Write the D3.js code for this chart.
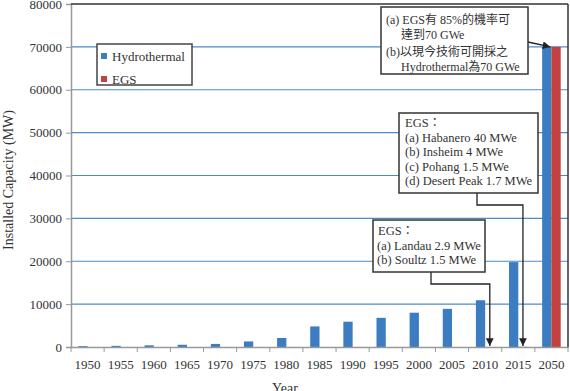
<!DOCTYPE html>
<html>
<head>
<meta charset="utf-8">
<script src="https://cdn.jsdelivr.net/npm/d3@7"></script>
<style>
  body { margin: 0; background: #fff; }
  text { font-family: "Liberation Serif", "Noto Sans CJK TC", serif; fill: #333; }
</style>
</head>
<body>
<svg id="chart" width="570" height="391"></svg>
<script>
var years = ['1950', '1955', '1960', '1965', '1970', '1975', '1980', '1985', '1990', '1995', '2000', '2005', '2010', '2015', '2050'];
var hydrothermal = [200, 270, 390, 520, 720, 1300, 2100, 4800, 5900, 6800, 8000, 8900, 10900, 19800, 70000];
var egs = [null, null, null, null, null, null, null, null, null, null, null, null, 4.4, 47.2, 70000];
var seriesNames = ['Hydrothermal', 'EGS'];
var yTicks = [0, 10000, 20000, 30000, 40000, 50000, 60000, 70000, 80000];

var colors = { Hydrothermal: '#3b7dc0', EGS: '#c4413f' };

var margin = { top: 4, right: 2, bottom: 44, left: 71 };
var width = 570 - margin.left - margin.right;
var height = 391 - margin.top - margin.bottom;

var svg = d3.select('#chart');
var g = svg.append('g').attr('transform', 'translate(' + margin.left + ',' + margin.top + ')');

var x0 = d3.scaleBand().domain(years).range([0, width]).paddingInner(0.44).paddingOuter(0.22);
var x1 = d3.scaleBand().domain(seriesNames).range([0, x0.bandwidth()]);
var y = d3.scaleLinear().domain([0, 80000]).range([height, 0]);

var step = x0.step();

// gridlines
g.selectAll('.grid')
  .data(yTicks.filter(function (d) { return d > 0 && d < 80000; }))
  .enter().append('line')
  .attr('x1', 0).attr('x2', width)
  .attr('y1', function (d) { return y(d); }).attr('y2', function (d) { return y(d); })
  .attr('stroke', '#4a8bcb').attr('stroke-width', 1.2);

// bars
var rows = years.map(function (yr, i) {
  return { year: yr, values: [{ key: 'Hydrothermal', v: hydrothermal[i] }, { key: 'EGS', v: egs[i] }] };
});

g.selectAll('.grp')
  .data(rows)
  .enter().append('g')
  .attr('transform', function (d) { return 'translate(' + x0(d.year) + ',0)'; })
  .selectAll('rect')
  .data(function (d) { return d.values.filter(function (v) { return v.v != null; }); })
  .enter().append('rect')
  .attr('x', function (d) { return x1(d.key); })
  .attr('width', x1.bandwidth())
  .attr('y', function (d) { return y(d.v); })
  .attr('height', function (d) { return height - y(d.v); })
  .attr('fill', function (d) { return colors[d.key]; });

// axes
var yAxis = g.append('g')
  .call(d3.axisLeft(y).tickValues(yTicks).tickSize(5).tickPadding(4).tickFormat(d3.format('d')));
yAxis.selectAll('text').style('font-size', '13px');
yAxis.selectAll('line').attr('stroke', '#999');
yAxis.select('.domain').attr('stroke', '#999').attr('stroke-width', 1.5);

var xAxis = g.append('g')
  .attr('transform', 'translate(0,' + height + ')')
  .call(d3.axisBottom(x0).tickSize(0).tickPadding(13));
xAxis.selectAll('text').style('font-size', '13px');
xAxis.select('.domain').attr('stroke', '#999').attr('stroke-width', 1.5);

// category boundary ticks
g.selectAll('.xtick')
  .data(d3.range(years.length + 1))
  .enter().append('line')
  .attr('x1', function (i) { return i * step; }).attr('x2', function (i) { return i * step; })
  .attr('y1', height).attr('y2', height + 5)
  .attr('stroke', '#999');

// plot border top & right
g.append('line').attr('x1', 0).attr('x2', width).attr('y1', 0).attr('y2', 0)
  .attr('stroke', '#333').attr('stroke-width', 1.5);
g.append('line').attr('x1', width).attr('x2', width).attr('y1', 0).attr('y2', height)
  .attr('stroke', '#333').attr('stroke-width', 1.5);

// axis titles
svg.append('text')
  .attr('transform', 'translate(13,180) rotate(-90)')
  .attr('text-anchor', 'middle')
  .style('font-size', '14px')
  .text('Installed Capacity (MW)');
svg.append('text')
  .attr('x', 285).attr('y', 393)
  .attr('text-anchor', 'middle')
  .style('font-size', '14px')
  .text('Year');

// legend
var legend = svg.append('g');
legend.append('rect').attr('x', 97).attr('y', 44).attr('width', 95).attr('height', 41)
  .attr('fill', '#fff').attr('stroke', '#444').attr('stroke-width', 1.5);
seriesNames.forEach(function (s, i) {
  var cy = 56 + i * 23;
  legend.append('rect').attr('x', 101).attr('y', cy - 3).attr('width', 6).attr('height', 6).attr('fill', colors[s]);
  legend.append('text').attr('x', 112).attr('y', cy + 4.5).style('font-size', '13px').text(s);
});

// annotations
svg.append('defs').append('marker')
  .attr('id', 'arrow').attr('viewBox', '0 0 10 10')
  .attr('refX', 10).attr('refY', 5)
  .attr('markerWidth', 6).attr('markerHeight', 6)
  .attr('orient', 'auto-start-reverse')
  .append('path').attr('d', 'M0,0 L10,5 L0,10 z').attr('fill', '#222');

function box(x, yTop, w, h) {
  svg.append('rect').attr('x', x).attr('y', yTop).attr('width', w).attr('height', h)
    .attr('fill', '#fff').attr('stroke', '#333').attr('stroke-width', 1.5);
}
function lines(items) {
  items.forEach(function (t) {
    svg.append('text').attr('x', t[0]).attr('y', t[1]).style('font-size', t[3] || '12.5px').text(t[2]);
  });
}
function egsX(yr) { return margin.left + x0(yr) + x1('EGS') + x1.bandwidth() / 2; }

// box 1 (2050)
svg.append('line')
  .attr('x1', 528).attr('y1', 42)
  .attr('x2', margin.left + x0('2050') + x0.bandwidth() / 2 - 1).attr('y2', margin.top + y(70000))
  .attr('stroke', '#222').attr('stroke-width', 1.3).attr('marker-end', 'url(#arrow)');
box(381, 7, 147, 67);
lines([
  [386, 24, '(a) EGS有 85%的機率可', '12px'],
  [401, 39, '達到70 GWe', '12px'],
  [386, 56, '(b)以現今技術可開採之', '12px'],
  [401, 71, 'Hydrothermal為70 GWe', '12px']
]);

// box 2 (2015)
var x2015 = egsX('2015');
svg.append('path')
  .attr('d', 'M477,193 V205 H' + x2015 + ' V' + (margin.top + height - 1))
  .attr('fill', 'none').attr('stroke', '#222').attr('stroke-width', 1.3).attr('marker-end', 'url(#arrow)');
box(399, 113, 139, 80);
lines([
  [405, 127, 'EGS：'],
  [405, 142, '(a) Habanero 40 MWe'],
  [405, 156, '(b) Insheim 4 MWe'],
  [405, 171, '(c) Pohang 1.5 MWe'],
  [405, 185, '(d) Desert Peak 1.7 MWe']
]);

// box 3 (2010)
var x2010 = egsX('2010');
svg.append('path')
  .attr('d', 'M431,272 V284 H' + x2010 + ' V' + (margin.top + height - 1))
  .attr('fill', 'none').attr('stroke', '#222').attr('stroke-width', 1.3).attr('marker-end', 'url(#arrow)');
box(373, 220, 112, 52);
lines([
  [378, 235, 'EGS：'],
  [377, 250, '(a) Landau 2.9 MWe'],
  [377, 264, '(b) Soultz 1.5 MWe']
]);
</script>
</body>
</html>
